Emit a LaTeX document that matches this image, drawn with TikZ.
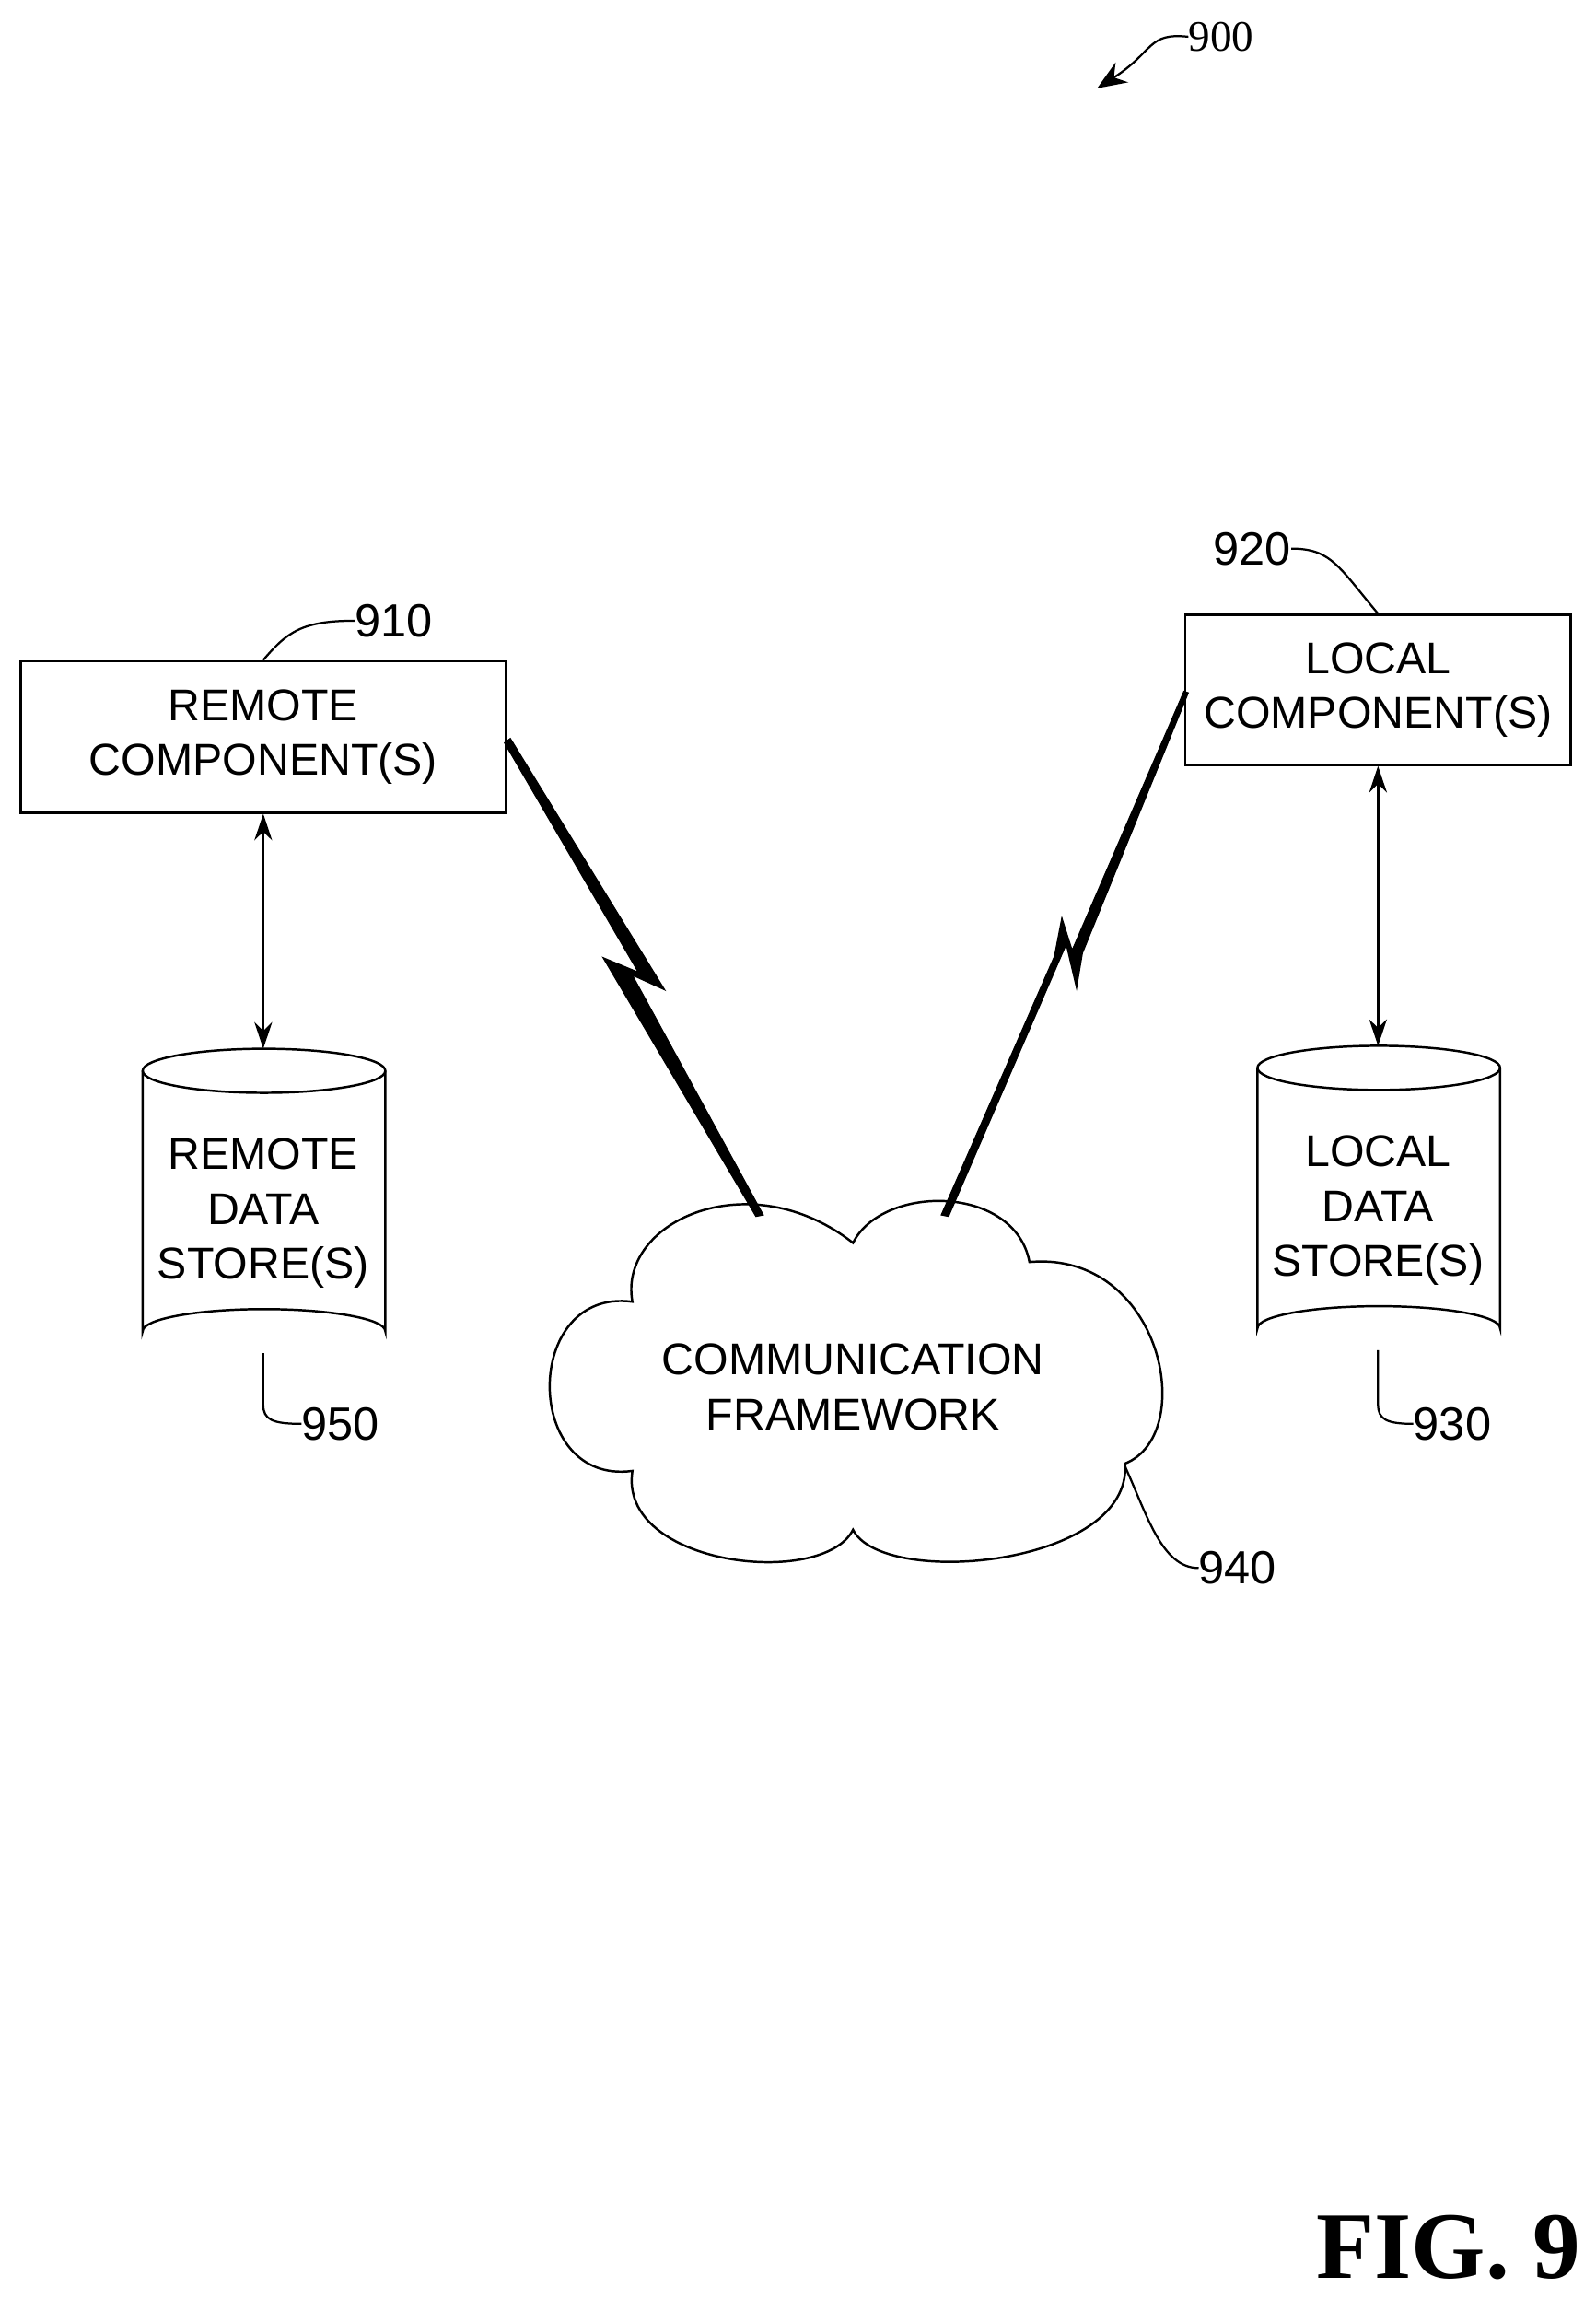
\documentclass[tikz,border=0pt]{standalone}
\usepackage{fontspec}
\setmainfont{Liberation Sans}
\newfontfamily\figfont{Liberation Serif}
\usetikzlibrary{arrows.meta}
\begin{document}
\begin{tikzpicture}[x=0.05cm,y=-0.05cm,
  lbl/.style={font=\fontsize{43}{53}\selectfont,align=center,inner sep=0},
  num/.style={font=\fontsize{45}{50}\selectfont,inner sep=0,anchor=west},
  ln/.style={line width=2.2pt},
  lead/.style={line width=2pt},
  bolt/.style={fill=black,draw=black,line width=1pt,line join=miter}]
\useasboundingbox (0,0) rectangle (1085,1563);
% boxes
\node[ln,draw,minimum width=330*0.05cm,minimum height=103*0.05cm,lbl] (rc) at (179,501) {REMOTE\\COMPONENT(S)};
\node[ln,draw,minimum width=262*0.05cm,minimum height=102*0.05cm,lbl] (lc) at (937,469) {LOCAL\\COMPONENT(S)};
% cylinders
\draw[ln,fill=white] (97,728) -- (97,905) arc[start angle=180,end angle=360,x radius=82.5,y radius=15] -- (262,728);
\draw[ln] (179.5,728) ellipse[x radius=82.5,y radius=15];
\node[lbl] (rds) at (179,825) {REMOTE\\DATA\\STORE(S)};
\coordinate (rdtop) at (179,713);
\draw[ln,fill=white] (855,726) -- (855,903) arc[start angle=180,end angle=360,x radius=82.5,y radius=15] -- (1020,726);
\draw[ln] (937.5,726) ellipse[x radius=82.5,y radius=15];
\node[lbl] (lds) at (937,823) {LOCAL\\DATA\\STORE(S)};
\coordinate (ldtop) at (937,711);
% arrows
\draw[line width=2.8pt,{Stealth[length=0.9cm,width=0.6cm]}-{Stealth[length=0.9cm,width=0.6cm]}] (rc.south) -- (rdtop);
\draw[line width=2.8pt,{Stealth[length=0.9cm,width=0.6cm]}-{Stealth[length=0.9cm,width=0.6cm]}] (lc.south) -- (ldtop);
% cloud
\draw[ln] (430,885) .. controls (420,830) and (510,790) .. (580,845)
  .. controls (600,805) and (690,805) .. (700,858)
  .. controls (790,850) and (815,975) .. (765,995)
  .. controls (770,1065) and (600,1080) .. (580,1040)
  .. controls (560,1080) and (420,1065) .. (430,1000)
  .. controls (355,1010) and (355,875) .. cycle;
\node[lbl] (cf) at (580,943) {COMMUNICATION\\FRAMEWORK};
% bolts
\path[bolt] (343,505) -- (347,502) -- (452,673) -- (430,663) -- (519,826) -- (514,827) -- (410,651) -- (434,661) -- cycle;
\path[bolt] (805,470) -- (808,471) -- (736,648) -- (732,672) -- (725,642) -- (645,827) -- (640,826) -- (717,650) -- (722,624) -- (729,646) -- cycle;
% labels
\node[num] (n910) at (241,422) {910};
\draw[lead] (rc.north) .. controls (195,430) and (205,422) .. (n910.west);
\node[num,anchor=east] (n920) at (878,373) {920};
\draw[lead] (n920.east) .. controls (905,373) and (910,385) .. (lc.north);
\node[num] (n950) at (205,968) {950};
\draw[lead] (179,920) -- (179,955) .. controls (179,965) and (185,968) .. (n950.west);
\node[num] (n930) at (961,968) {930};
\draw[lead] (937,918) -- (937,955) .. controls (937,965) and (943,968) .. (n930.west);
\node[num] (n940) at (815,1066) {940};
\coordinate (cl) at (765,997);
\draw[lead] (cl) .. controls (780,1030) and (790,1066) .. (n940.west);
\node[num,font=\figfont\fontsize{42}{45}\selectfont] (n900) at (808,25) {900};
\coordinate (a900) at (746,60);
\draw[lead,-{Stealth[length=1.0cm,width=0.8cm]}] (n900.west) .. controls (780,22) and (785,35) .. (a900);
\node[font=\figfont\bfseries\fontsize{92}{96}\selectfont,inner sep=0,anchor=east] (fig) at (1075,1528) {FIG. 9};
\end{tikzpicture}
\end{document}
